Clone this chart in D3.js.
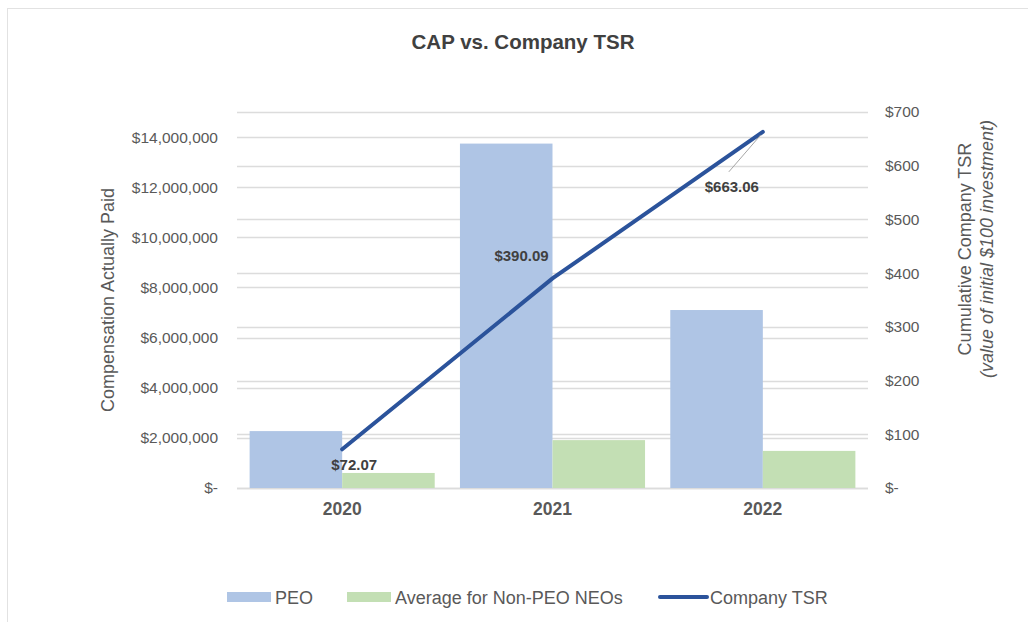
<!DOCTYPE html>
<html>
<head>
<meta charset="utf-8">
<script src="https://cdn.jsdelivr.net/npm/d3@7"></script>
<style>
  body { margin: 0; background: #fff; }
  svg { font-family: "Liberation Sans", Arial, sans-serif; }
</style>
</head>
<body>
<div id="chart"></div>
<script>
const years = ["2020", "2021", "2022"];
const peoValues = [2270000, 13740000, 7100000];
const nonPeoValues = [600000, 1910000, 1480000];
const tsrValues = [72.07, 390.09, 663.06];
const tsrLabels = ["$72.07", "$390.09", "$663.06"];
const leftTicks = [0, 2000000, 4000000, 6000000, 8000000, 10000000, 12000000, 14000000];
const rightTicks = [0, 100, 200, 300, 400, 500, 600, 700];
const legendItems = ["PEO", "Average for Non-PEO NEOs", "Company TSR"];

const width = 1028, height = 622;
const plot = { left: 237, right: 868, top: 112, bottom: 488 };
const colors = { peo: "#afc5e5", nonPeo: "#c3dfb4", tsr: "#2b539b", grid: "#dcdcdc", text: "#595959", label: "#404040" };

const svg = d3.select("#chart").append("svg")
    .attr("width", width)
    .attr("height", height);

// frame
svg.append("rect")
    .attr("x", 7.5).attr("y", 8.5)
    .attr("width", 1040).attr("height", 640)
    .attr("fill", "none")
    .attr("stroke", "#e2e2e2");

const x = d3.scaleBand()
    .domain(years)
    .range([plot.left, plot.right])
    .paddingInner(0.12)
    .paddingOuter(0.06);

const xSub = d3.scaleBand()
    .domain(["peo", "nonPeo"])
    .range([0, x.bandwidth()]);

const yLeft = d3.scaleLinear().domain([0, 15000000]).range([plot.bottom, plot.top]);
const yRight = d3.scaleLinear().domain([0, 700]).range([plot.bottom, plot.top]);

// gridlines for both axes
const grid = svg.append("g");
grid.selectAll("line.gl")
    .data(leftTicks)
    .enter().append("line")
    .attr("x1", plot.left).attr("x2", plot.right)
    .attr("y1", d => Math.round(yLeft(d)) + 0.5)
    .attr("y2", d => Math.round(yLeft(d)) + 0.5)
    .attr("stroke", colors.grid)
    .attr("stroke-width", 1.5);
grid.selectAll("line.gr")
    .data(rightTicks)
    .enter().append("line")
    .attr("x1", plot.left).attr("x2", plot.right)
    .attr("y1", d => Math.round(yRight(d)) + 0.5)
    .attr("y2", d => Math.round(yRight(d)) + 0.5)
    .attr("stroke", colors.grid)
    .attr("stroke-width", 1.5);

// bars
const groups = svg.append("g").selectAll("g")
    .data(years)
    .enter().append("g")
    .attr("transform", d => `translate(${x(d)},0)`);

groups.append("rect")
    .attr("x", xSub("peo"))
    .attr("width", xSub.bandwidth())
    .attr("y", (d, i) => yLeft(peoValues[i]))
    .attr("height", (d, i) => plot.bottom - yLeft(peoValues[i]))
    .attr("fill", colors.peo);

groups.append("rect")
    .attr("x", xSub("nonPeo"))
    .attr("width", xSub.bandwidth())
    .attr("y", (d, i) => yLeft(nonPeoValues[i]))
    .attr("height", (d, i) => plot.bottom - yLeft(nonPeoValues[i]))
    .attr("fill", colors.nonPeo);

// TSR line
const cx = d => x(d) + x.bandwidth() / 2;
const line = d3.line()
    .x((d, i) => cx(years[i]))
    .y(d => yRight(d));

svg.append("path")
    .datum(tsrValues)
    .attr("d", line)
    .attr("fill", "none")
    .attr("stroke", colors.tsr)
    .attr("stroke-width", 4)
    .attr("stroke-linecap", "round");

// data labels
const labelOffsets = [[12, 21], [-31, -17], [-31, 60]];
svg.append("line")
    .attr("x1", cx(years[2]) - 34).attr("y1", yRight(tsrValues[2]) + 40)
    .attr("x2", cx(years[2]) - 2).attr("y2", yRight(tsrValues[2]) + 3)
    .attr("stroke", "#a6a6a6")
    .attr("stroke-width", 1);

svg.append("g").selectAll("text")
    .data(tsrValues)
    .enter().append("text")
    .attr("x", (d, i) => cx(years[i]) + labelOffsets[i][0])
    .attr("y", (d, i) => yRight(d) + labelOffsets[i][1])
    .attr("text-anchor", "middle")
    .attr("font-size", 15)
    .attr("font-weight", "bold")
    .attr("fill", colors.label)
    .text((d, i) => tsrLabels[i]);

// axes
const fmtLeft = d => d === 0 ? "$-" : "$" + d3.format(",")(d);
const fmtRight = d => d === 0 ? "$-" : "$" + d;

const leftAxis = svg.append("g")
    .attr("transform", `translate(${plot.left - 16},0)`)
    .call(d3.axisLeft(yLeft).tickValues(leftTicks).tickFormat(fmtLeft).tickSize(0));
leftAxis.select(".domain").remove();
leftAxis.selectAll("text")
    .attr("font-size", 15.5)
    .attr("fill", colors.text)
    .attr("font-family", "Liberation Sans, Arial, sans-serif");

const rightAxis = svg.append("g")
    .attr("transform", `translate(${plot.right + 14},0)`)
    .call(d3.axisRight(yRight).tickValues(rightTicks).tickFormat(fmtRight).tickSize(0));
rightAxis.select(".domain").remove();
rightAxis.selectAll("text")
    .attr("font-size", 15.5)
    .attr("fill", colors.text)
    .attr("font-family", "Liberation Sans, Arial, sans-serif");

const bottomAxis = svg.append("g")
    .attr("transform", `translate(0,${plot.bottom + 12})`)
    .call(d3.axisBottom(x).tickSize(0));
bottomAxis.select(".domain").remove();
bottomAxis.selectAll("text")
    .attr("font-size", 17.5)
    .attr("font-weight", "bold")
    .attr("fill", colors.text)
    .attr("font-family", "Liberation Sans, Arial, sans-serif");

// title
svg.append("text")
    .attr("x", 523).attr("y", 49)
    .attr("text-anchor", "middle")
    .attr("font-size", 20.5)
    .attr("font-weight", "bold")
    .attr("fill", colors.label)
    .text("CAP vs. Company TSR");

// axis titles
svg.append("text")
    .attr("transform", "translate(114,300) rotate(-90)")
    .attr("text-anchor", "middle")
    .attr("font-size", 18)
    .attr("fill", colors.text)
    .text("Compensation Actually Paid");

const rTitle = svg.append("text")
    .attr("transform", "translate(971,249) rotate(-90)")
    .attr("text-anchor", "middle")
    .attr("font-size", 18)
    .attr("fill", colors.text);
rTitle.append("tspan").attr("x", 0).attr("dy", 0).text("Cumulative Company TSR");
rTitle.append("tspan").attr("x", 0).attr("dy", 22).attr("font-style", "italic").text("(value of initial $100 investment)");

// legend
const legend = svg.append("g").attr("transform", "translate(227,597)");
const legendX = [0, 120, 431];
legendItems.forEach((name, i) => {
    const g = legend.append("g").attr("transform", `translate(${legendX[i]},0)`);
    if (i < 2) {
        g.append("rect")
            .attr("x", 0).attr("y", -5)
            .attr("width", 44).attr("height", 10)
            .attr("fill", i === 0 ? colors.peo : colors.nonPeo);
    } else {
        g.append("line")
            .attr("x1", 2).attr("x2", 49)
            .attr("y1", 0).attr("y2", 0)
            .attr("stroke", colors.tsr)
            .attr("stroke-width", 4)
            .attr("stroke-linecap", "round");
    }
    g.append("text")
        .attr("x", i < 2 ? 48 : 52)
        .attr("y", 6.5)
        .attr("font-size", 18)
        .attr("fill", colors.text)
        .text(name);
});
</script>
</body>
</html>
